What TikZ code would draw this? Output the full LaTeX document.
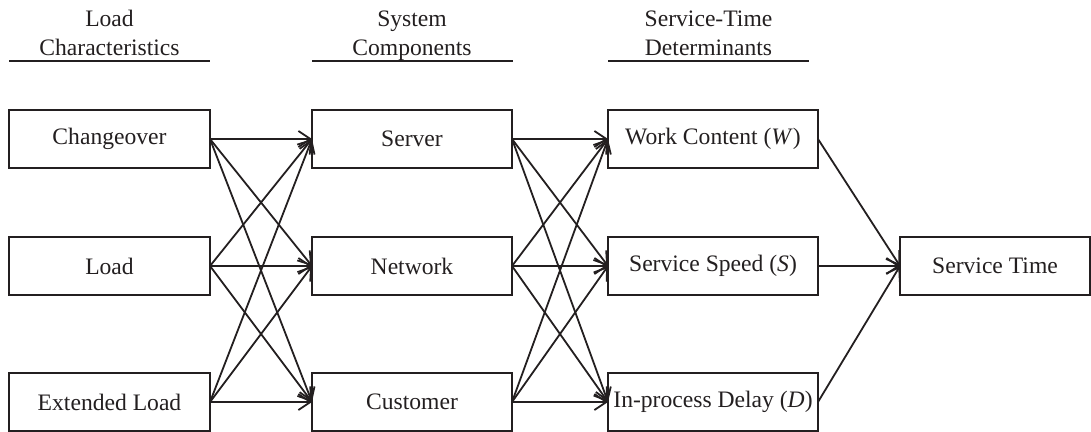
\documentclass[tikz,border=0pt]{standalone}
\usepackage{fontspec}
\setmainfont{Liberation Serif}
\usetikzlibrary{arrows.meta}
\definecolor{ink}{HTML}{231F20}
\begin{document}
\begin{tikzpicture}[x=1pt,y=-1pt,
  box/.style={draw=ink, text=ink, line width=1.8pt, inner sep=0pt, outer sep=0pt,
    minimum height=58pt, font=\fontsize{23.6}{28}\selectfont},
  link/.style={draw=ink, line width=1.8pt,
    -{Straight Barb[length=12pt,width=16pt,line width=1.8pt]}},
  head/.style={text=ink, inner sep=0pt, anchor=base, font=\fontsize{23.6}{28}\selectfont},
  rule/.style={draw=ink, line width=2.8pt}]
\useasboundingbox (0,0) rectangle (1091,431);

% column headings
\node[head] (h1a) at (109.5,27) {Load};
\node[head] (h1b) at (109.5,55) {Characteristics};
\draw[rule] (9,61) -- (210,61);
\node[head] (h2a) at (412,27) {System};
\node[head] (h2b) at (412,55) {Components};
\draw[rule] (312,61) -- (513,61);
\node[head] (h3a) at (708.5,27) {Service-Time};
\node[head] (h3b) at (708.5,55) {Determinants};
\draw[rule] (608,61) -- (809,61);

% load characteristics
\node[box, minimum width=201pt] (a1) at (109.5,139) {Changeover};
\node[box, minimum width=201pt] (a2) at (109.5,266) {Load};
\node[box, minimum width=201pt] (a3) at (109.5,402) {Extended Load};

% system components
\node[box, minimum width=200pt] (b1) at (412,139) {Server};
\node[box, minimum width=200pt] (b2) at (412,266) {Network};
\node[box, minimum width=200pt] (b3) at (412,402) {Customer};

% service-time determinants
\node[box, minimum width=210pt] (c1) at (713,139) {Work Content (\textit{W})};
\node[box, minimum width=210pt] (c2) at (713,266) {Service Speed (\textit{S})};
\node[box, minimum width=210pt] (c3) at (713,402) {In-process Delay (\textit{D})};

% result
\node[box, minimum width=190pt] (d) at (995,266) {Service Time};

% every characteristic feeds every component, every component every determinant
\foreach \s in {a1,a2,a3}
  \foreach \t in {b1,b2,b3}
    \draw[link] (\s.east) -- (\t.west);
\foreach \s in {b1,b2,b3}
  \foreach \t in {c1,c2,c3}
    \draw[link] (\s.east) -- (\t.west);
\foreach \s in {c1,c2,c3}
  \draw[link] (\s.east) -- (d.west);
\end{tikzpicture}
\end{document}
